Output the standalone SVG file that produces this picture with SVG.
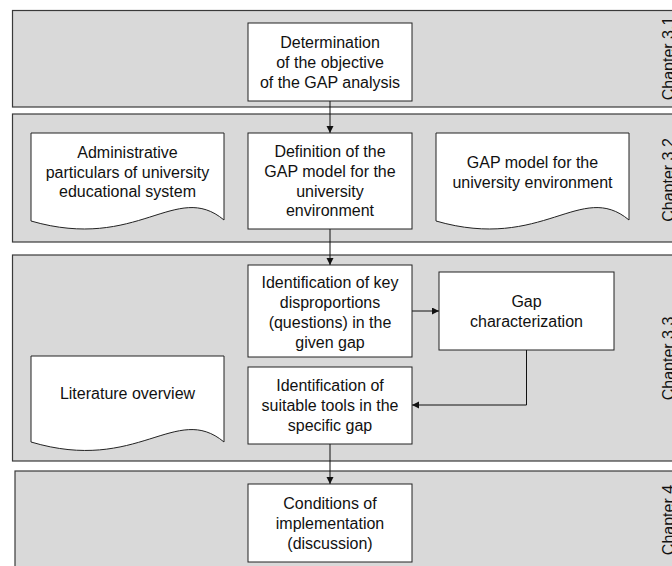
<svg xmlns="http://www.w3.org/2000/svg" width="672" height="566" viewBox="0 0 672 566">
<style>
.band{fill:#d9d9d9;stroke:#3a3a3a;stroke-width:1.2}
.box{fill:#fff;stroke:#222;stroke-width:1}
.t{font-family:"Liberation Sans",Arial,sans-serif;font-size:16px;fill:#111;text-anchor:middle}
.ch{font-family:"Liberation Sans",Arial,sans-serif;font-size:16px;fill:#111;text-anchor:middle}
.c{fill:none;stroke:#111;stroke-width:1}
</style>
<defs>
<marker id="ah" markerUnits="userSpaceOnUse" markerWidth="8" markerHeight="8" refX="7" refY="3.5" orient="auto">
<path d="M0,0 L7,3.5 L0,7 Z" fill="#111"/>
</marker>
</defs>
<g id="bands">
<rect class="band" x="12.5" y="10.5" width="680" height="96.5"/>
<rect class="band" x="12.5" y="114" width="680" height="128"/>
<rect class="band" x="12.5" y="255" width="680" height="206"/>
<rect class="band" x="15" y="471" width="680" height="110"/>
<text class="ch" transform="translate(673.5,58.5) rotate(-90)">Chapter 3.1</text>
<text class="ch" transform="translate(673.5,180) rotate(-90)">Chapter 3.2</text>
<text class="ch" transform="translate(673.5,358.5) rotate(-90)">Chapter 3.3</text>
<text class="ch" transform="translate(673.5,520) rotate(-90)">Chapter 4</text>
</g>
<g id="connectors">
<line class="c" x1="330" y1="101" x2="330" y2="133" marker-end="url(#ah)"/>
<line class="c" x1="330" y1="229" x2="330" y2="265" marker-end="url(#ah)"/>
<line class="c" x1="412" y1="311" x2="439" y2="311" marker-end="url(#ah)"/>
<polyline class="c" points="526.5,350 526.5,405 412,405" marker-end="url(#ah)"/>
<line class="c" x1="330" y1="444" x2="330" y2="484" marker-end="url(#ah)"/>
</g>
<g id="n1">
<rect class="box" x="248" y="23" width="164" height="78"/>
<text class="t" x="330" y="48">Determination</text>
<text class="t" x="330" y="68">of the objective</text>
<text class="t" x="330" y="88">of the GAP analysis</text>
</g>
<g id="n2">
<path class="box" d="M31,133 H224 V220 C176,180 138,252 31,221 Z"/>
<text class="t" x="127.5" y="158">Administrative</text>
<text class="t" x="127.5" y="177.5">particulars of university</text>
<text class="t" x="127.5" y="197">educational system</text>
</g>
<g id="n3">
<rect class="box" x="248" y="133" width="164" height="96"/>
<text class="t" x="330" y="157.3">Definition of the</text>
<text class="t" x="330" y="176.9">GAP model for the</text>
<text class="t" x="330" y="196.5">university</text>
<text class="t" x="330" y="216.1">environment</text>
</g>
<g id="n4">
<path class="box" d="M436,133 H629 V220 C581,180 543,252 436,221 Z"/>
<text class="t" x="532.5" y="167.5">GAP model for the</text>
<text class="t" x="532.5" y="187.5">university environment</text>
</g>
<g id="n5">
<rect class="box" x="248" y="265" width="164" height="92"/>
<text class="t" x="330" y="287.5">Identification of key</text>
<text class="t" x="330" y="307.5">disproportions</text>
<text class="t" x="330" y="327.5">(questions) in the</text>
<text class="t" x="330" y="347.5">given gap</text>
</g>
<g id="n6">
<rect class="box" x="439" y="272" width="175" height="78"/>
<text class="t" x="526.5" y="306.8">Gap</text>
<text class="t" x="526.5" y="326.8">characterization</text>
</g>
<g id="n7">
<path class="box" d="M31,356 H224 V442 C176,402 138,474 31,442 Z"/>
<text class="t" x="127.5" y="399">Literature overview</text>
</g>
<g id="n8">
<rect class="box" x="248" y="367" width="164" height="77"/>
<text class="t" x="330" y="390.8">Identification of</text>
<text class="t" x="330" y="410.8">suitable tools in the</text>
<text class="t" x="330" y="430.8">specific gap</text>
</g>
<g id="n9">
<rect class="box" x="248" y="484" width="164" height="78"/>
<text class="t" x="330" y="508.8">Conditions of</text>
<text class="t" x="330" y="528.5">implementation</text>
<text class="t" x="330" y="548.5">(discussion)</text>
</g>
</svg>
